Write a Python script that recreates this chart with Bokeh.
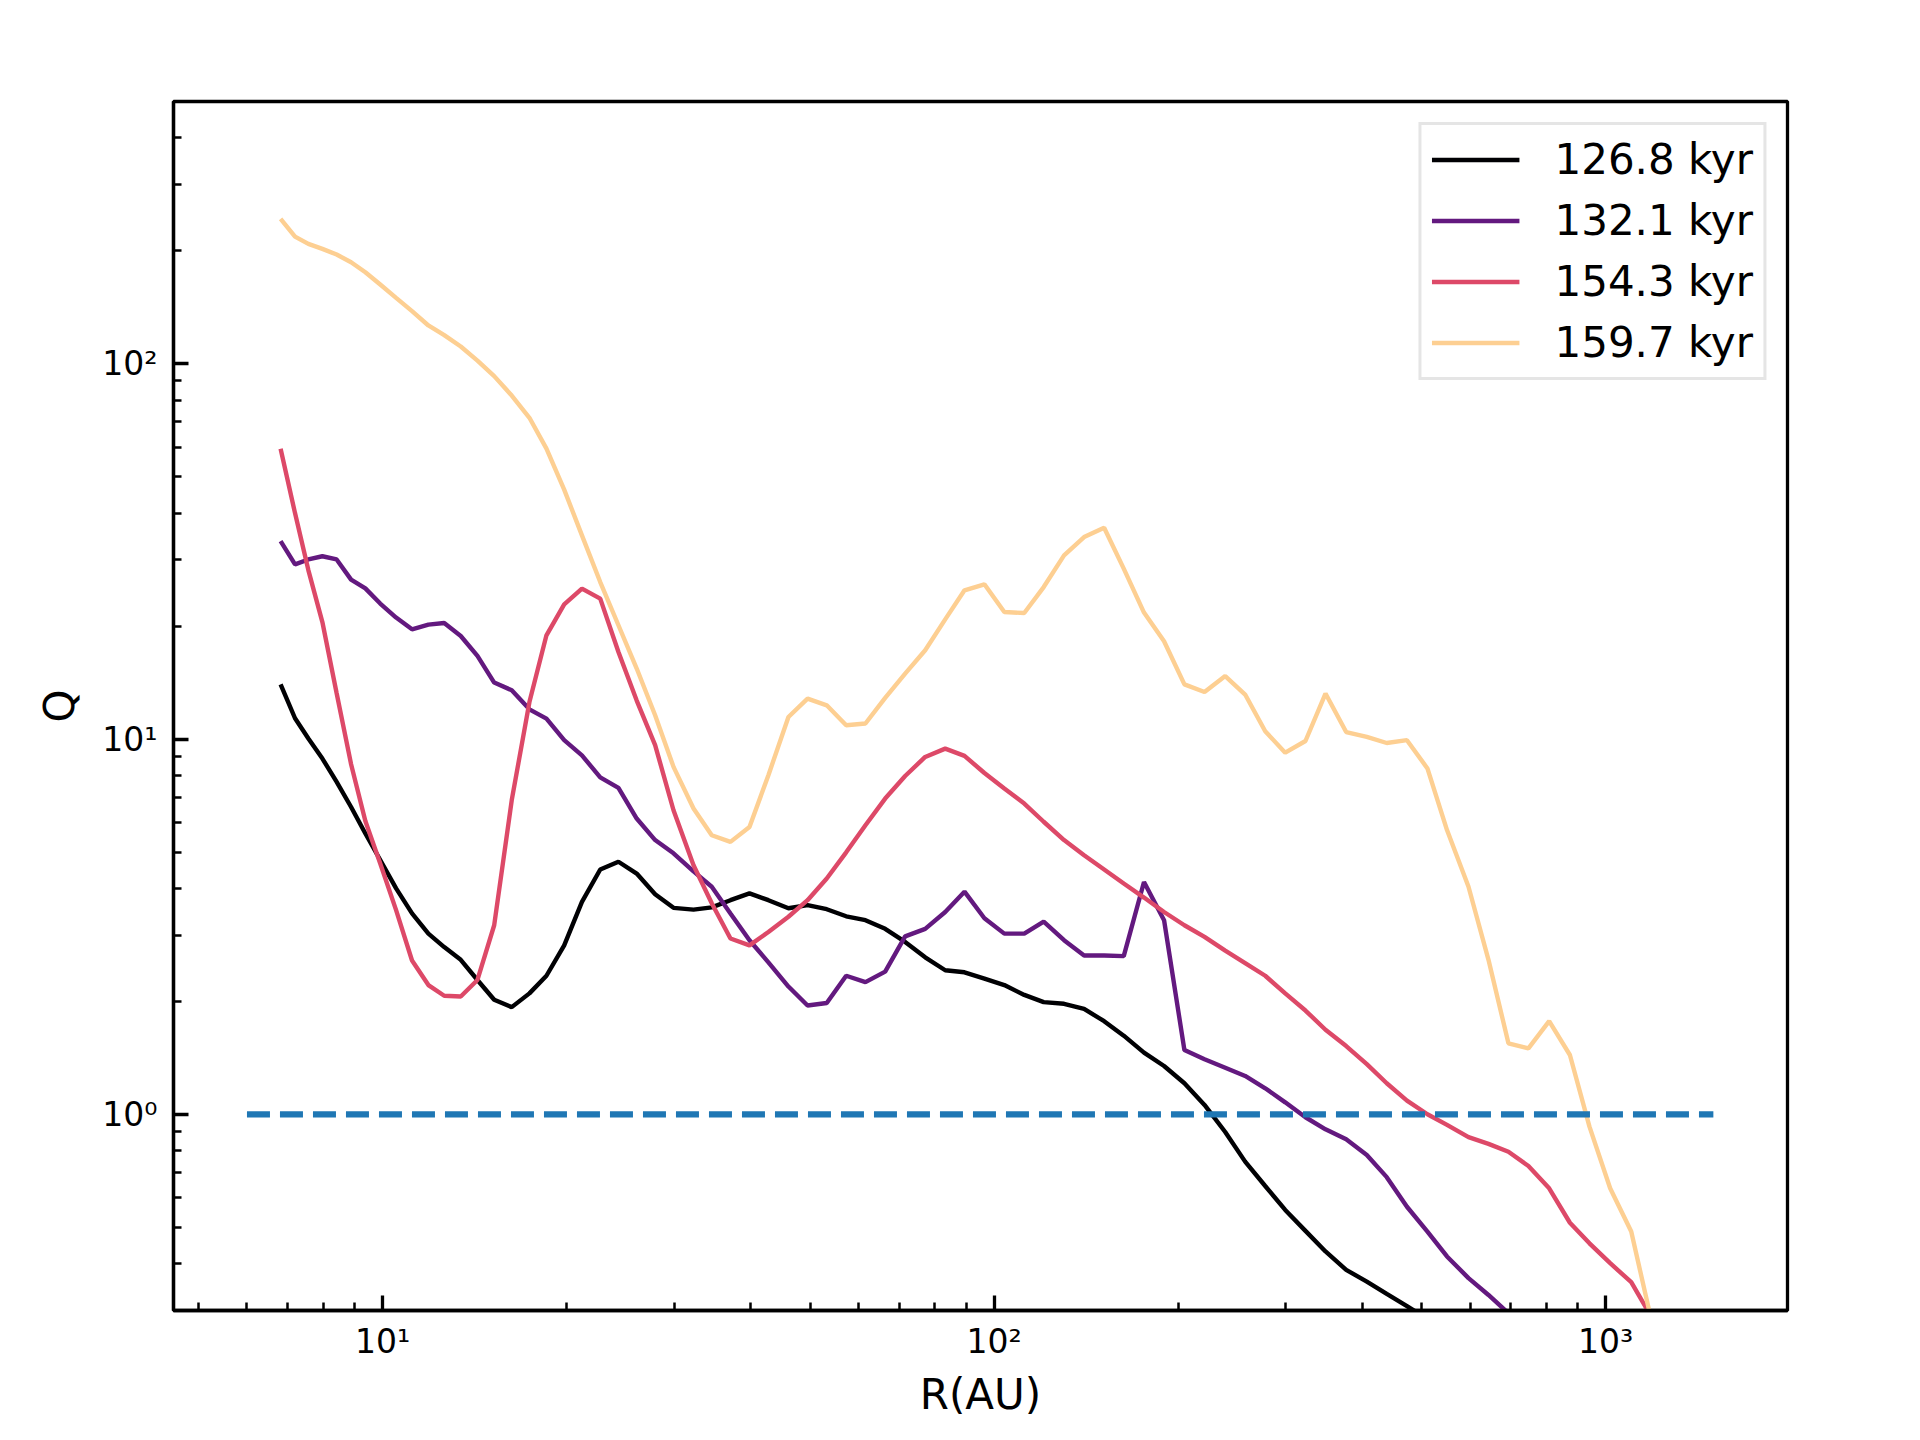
from bokeh.plotting import figure
from bokeh.models import Range1d, FixedTicker
from bokeh.palettes import Magma256
from bokeh.embed import file_html
from bokeh.resources import INLINE

# ---- data ----
r_au = [6.81, 7.19, 7.56, 7.97, 8.41, 8.88, 9.37, 9.91, 10.52, 11.17,
        11.88, 12.61, 13.42, 14.29, 15.22, 16.26, 17.38, 18.53, 19.81, 21.18,
        22.69, 24.30, 26.03, 27.90, 29.90, 32.24, 34.53, 37.05, 39.80, 42.74,
        46.09, 49.53, 53.24, 57.28, 61.59, 66.34, 71.52, 77.13, 83.17, 89.43,
        96.40, 103.9, 112.0, 120.5, 130.1, 140.3, 151.3, 162.9, 175.8, 189.6,
        204.7, 220.8, 238.7, 257.3, 277.5, 299.2, 322.9, 348.2, 376.4, 406.8,
        438.5, 473.2, 511.1, 550.2, 596.6, 643.2, 693.4, 747.6, 808.3, 874.0,
        940.8, 1017, 1101, 1184, 1276]

q_126_8 = [13.99, 11.36, 10.03, 8.87, 7.69, 6.59, 5.60, 4.76, 4.00, 3.43,
           3.03, 2.79, 2.58, 2.28, 2.02, 1.93, 2.10, 2.34, 2.82, 3.68,
           4.49, 4.71, 4.38, 3.86, 3.55, 3.51, 3.56, 3.72, 3.88, 3.72,
           3.54, 3.61, 3.52, 3.37, 3.29, 3.12, 2.88, 2.62, 2.42, 2.39,
           2.30, 2.21, 2.08, 1.99, 1.97, 1.91, 1.77, 1.62, 1.46, 1.345,
           1.21, 1.059, 0.897, 0.748, 0.644, 0.556, 0.489, 0.431, 0.385, 0.358,
           0.332, 0.308, 0.285]

q_132_1 = [33.7, 29.2, 30.1, 30.7, 30.1, 26.6, 25.2, 22.96, 21.07, 19.61,
           20.18, 20.38, 18.82, 16.65, 14.14, 13.49, 12.00, 11.33, 9.93, 9.05,
           7.90, 7.41, 6.14, 5.38, 4.96, 4.44, 4.04, 3.43, 2.91, 2.54,
           2.19, 1.95, 1.98, 2.34, 2.25, 2.40, 2.98, 3.12, 3.46, 3.92,
           3.33, 3.03, 3.03, 3.26, 2.91, 2.65, 2.65, 2.64, 4.16, 3.29,
           1.483, 1.402, 1.331, 1.265, 1.173, 1.076, 0.982, 0.912, 0.858, 0.779,
           0.680, 0.567, 0.487, 0.418, 0.366, 0.330, 0.295]

q_154_3 = [59.4, 40.0, 28.2, 20.5, 13.24, 8.57, 6.05, 4.66, 3.50, 2.57,
           2.21, 2.07, 2.06, 2.28, 3.19, 6.87, 12.55, 18.90, 22.86, 25.17,
           23.67, 17.06, 12.66, 9.63, 6.46, 4.61, 3.65, 2.94, 2.82, 3.06,
           3.36, 3.72, 4.25, 4.99, 5.89, 6.94, 7.97, 8.96, 9.43, 9.02,
           8.12, 7.38, 6.73, 6.02, 5.38, 4.90, 4.49, 4.12, 3.78, 3.46,
           3.19, 2.97, 2.73, 2.53, 2.34, 2.10, 1.89, 1.68, 1.52, 1.36,
           1.21, 1.087, 1.00, 0.937, 0.869, 0.834, 0.795, 0.728, 0.635, 0.514,
           0.453, 0.401, 0.357, 0.291]

q_159_7 = [243.3, 218.3, 208.7, 202.4, 195.5, 186.5, 175.4, 162.7, 149.9, 138.1,
           126.5, 119.2, 111.2, 102.0, 92.7, 82.3, 71.8, 59.4, 46.2, 34.9,
           26.2, 20.1, 15.41, 11.57, 8.43, 6.53, 5.54, 5.32, 5.83, 8.01,
           11.45, 12.82, 12.30, 10.88, 11.00, 12.87, 14.94, 17.24, 20.84, 24.91,
           25.84, 21.80, 21.67, 25.41, 30.87, 34.53, 36.58, 28.45, 21.73, 18.22,
           13.99, 13.35, 14.72, 13.14, 10.49, 9.20, 9.88, 13.22, 10.44, 10.13,
           9.76, 9.93, 8.35, 5.72, 4.04, 2.58, 1.546, 1.499, 1.772, 1.439,
           0.927, 0.635, 0.487, 0.289]

series_labels = ["126.8 kyr", "132.1 kyr", "154.3 kyr", "159.7 kyr"]
series_values = [q_126_8, q_132_1, q_154_3, q_159_7]

q_crit_r = [6, 1500]
q_crit = [1, 1]

x_major = [10, 100, 1000]
x_minor = [5, 6, 7, 8, 9, 20, 30, 40, 50, 60, 70, 80, 90,
           200, 300, 400, 500, 600, 700, 800, 900]
x_labels = {10: "10\u00b9", 100: "10\u00b2", 1000: "10\u00b3"}
y_major = [1, 10, 100]
y_minor = [0.3, 0.4, 0.5, 0.6, 0.7, 0.8, 0.9, 2, 3, 4, 5, 6, 7, 8, 9,
           20, 30, 40, 50, 60, 70, 80, 90, 200, 300, 400]
y_labels = {1: "10\u2070", 10: "10\u00b9", 100: "10\u00b2"}

# ---- styles ----
colors = [Magma256[0], Magma256[76], Magma256[153], Magma256[230]]
FONT = "DejaVu Sans"

p = figure(x_axis_type="log", y_axis_type="log",
           x_range=Range1d(4.55, 1983), y_range=Range1d(0.3, 500),
           frame_width=1614, frame_height=1209,
           min_border_left=173, min_border_top=101,
           min_border_right=120, min_border_bottom=125,
           output_backend="svg", toolbar_location=None,
           background_fill_color="white", border_fill_color="white")

for lab, q, c in zip(series_labels, series_values, colors):
    p.line(r_au[:len(q)], q, line_color=c, line_width=4.4, legend_label=lab)

p.line(q_crit_r, q_crit, line_color="#1f77b4", line_width=6.25, line_dash="23 10")

p.xgrid.visible = False
p.ygrid.visible = False
p.outline_line_color = "black"
p.outline_line_width = 3.3

p.xaxis.ticker = FixedTicker(ticks=x_major, minor_ticks=x_minor)
p.yaxis.ticker = FixedTicker(ticks=y_major, minor_ticks=y_minor)
p.xaxis.major_label_overrides = x_labels
p.yaxis.major_label_overrides = y_labels

for ax in (p.xaxis, p.yaxis):
    ax.axis_line_color = "black"
    ax.axis_line_width = 3.3
    ax.major_tick_in = 15
    ax.major_tick_out = 0
    ax.minor_tick_in = 8
    ax.minor_tick_out = 0
    ax.major_tick_line_width = 3.3
    ax.minor_tick_line_width = 2.5
    ax.major_tick_line_color = "black"
    ax.minor_tick_line_color = "black"
    ax.major_label_text_font = FONT
    ax.major_label_text_font_size = "33px"
    ax.major_label_text_color = "black"
    ax.axis_label_text_font = FONT
    ax.axis_label_text_font_size = "42px"
    ax.axis_label_text_font_style = "normal"
    ax.axis_label_text_color = "black"

p.xaxis.axis_label = "R(AU)"
p.yaxis.axis_label = "Q"
p.xaxis.major_label_standoff = 11
p.yaxis.major_label_standoff = 16
p.xaxis.axis_label_standoff = 6
p.yaxis.axis_label_standoff = 15

lg = p.legend[0]
lg.location = "top_right"
lg.margin = 21
lg.padding = 10
lg.spacing = 12
lg.glyph_width = 88
lg.glyph_height = 49
lg.label_height = 49
lg.label_standoff = 35
lg.label_text_font = FONT
lg.label_text_font_size = "42px"
lg.label_text_color = "black"
lg.border_line_color = "#cccccc"
lg.border_line_width = 3
lg.background_fill_color = "white"
lg.background_fill_alpha = 0.8

open("out.html", "w").write(file_html(p, INLINE))
